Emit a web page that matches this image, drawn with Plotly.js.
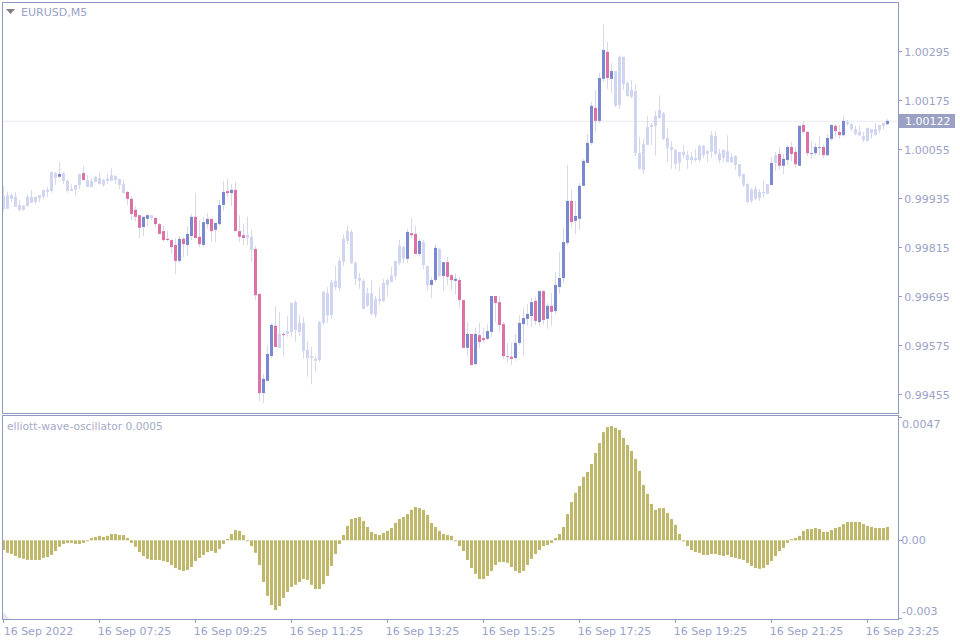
<!DOCTYPE html>
<html><head><meta charset="utf-8">
<script src="https://cdn.plot.ly/plotly-3.0.1.min.js"></script>
<style>html,body{margin:0;padding:0;background:#fff}#c{width:960px;height:640px}</style></head>
<body><div id="c"></div>
<script>
// Prices and oscillator values in points (1 point = 0.00001)
const POINT = 0.00001;
const highPts = [
99966,99951,99948,99951,99931,99919,99946,99956,99939,99943,
99956,99963,100000,100000,100024,100000,99983,99970,99968,99995,
100014,99992,99985,99990,100000,99983,99995,100010,99992,99983,
99980,99953,99941,99916,99894,99890,99897,99894,99890,99875,
99868,99855,99836,99838,99843,99841,99868,99897,99948,99882,
99890,99899,99885,99875,99931,99978,99983,99970,99975,99894,
99872,99890,99858,99818,99703,99505,99576,99630,99672,99657,
99608,99647,99679,99686,99650,99645,99586,99571,99549,99635,
99708,99718,99735,99770,99789,99848,99868,99858,99782,99752,
99738,99716,99735,99696,99718,99738,99738,99767,99782,99833,
99819,99860,99887,99868,99836,99833,99770,99743,99823,99814,
99779,99792,99750,99752,99743,99686,99632,99603,99618,99630,
99618,99627,99696,99696,99696,99632,99581,99581,99603,99649,
99667,99676,99691,99694,99708,99711,99679,99703,99755,99804,
99863,100017,99956,99929,99973,100032,100093,100171,100201,100242,
100362,100318,100267,100247,100286,100282,100223,100225,100215,100086,
100081,100137,100120,100149,100188,100147,100108,100076,100056,100049,
100066,100051,100049,100056,100066,100066,100054,100100,100100,100056,
100054,100090,100046,100041,100019,99995,99973,99961,99966,99958,
99980,99970,100037,100049,100061,100044,100066,100073,100061,100113,
100125,100100,100076,100071,100088,100068,100093,100117,100117,100115,
100139,100127,100120,100113,100113,100098,100108,100105,100120,100115,
100120,100130];
const bodyTopPts = [
99941,99943,99943,99939,99919,99917,99939,99939,99939,99943,
99956,99956,100000,99997,99995,99997,99978,99958,99968,99995,
99997,99980,99978,99988,99985,99980,99983,99992,99990,99983,
99970,99951,99934,99907,99894,99890,99894,99894,99887,99872,
99855,99836,99833,99821,99836,99836,99848,99890,99890,99841,
99877,99885,99885,99875,99919,99951,99953,99956,99956,99855,
99845,99845,99841,99811,99701,99493,99554,99625,99623,99603,
99603,99610,99679,99681,99630,99630,99564,99549,99542,99632,
99706,99703,99730,99733,99782,99836,99855,99853,99777,99740,
99733,99703,99703,99689,99689,99728,99735,99747,99782,99819,
99816,99853,99850,99848,99831,99828,99770,99735,99814,99811,
99779,99779,99747,99738,99735,99686,99603,99603,99603,99600,
99593,99610,99696,99696,99681,99627,99549,99547,99581,99630,
99642,99652,99681,99684,99708,99708,99672,99672,99723,99740,
99828,99929,99929,99892,99966,100027,100071,100162,100157,100230,
100299,100294,100247,100247,100282,100282,100218,100201,100198,100046,
100068,100110,100115,100137,100152,100144,100083,100061,100054,100049,
100049,100041,100037,100034,100064,100064,100051,100090,100088,100046,
100054,100051,100037,100039,100019,99995,99970,99956,99958,99951,
99951,99970,100022,100041,100044,100032,100061,100061,100049,100113,
100115,100098,100046,100061,100061,100061,100083,100115,100113,100098,
100125,100122,100117,100105,100098,100088,100108,100105,100105,100115,
100120,100125];
const bodyBottomPts = [
99909,99909,99934,99914,99907,99907,99916,99924,99926,99936,
99939,99951,99953,99985,99988,99978,99953,99953,99956,99968,
99980,99963,99963,99975,99970,99968,99978,99978,99980,99968,
99948,99934,99897,99890,99863,99865,99885,99887,99872,99848,
99833,99833,99816,99782,99782,99823,99821,99843,99838,99823,
99821,99872,99855,99858,99872,99919,99948,99948,99855,99841,
99838,99838,99809,99698,99458,99458,99488,99549,99571,99569,
99600,99603,99608,99613,99608,99561,99544,99544,99537,99539,
99630,99649,99649,99718,99716,99779,99831,99777,99738,99733,
99664,99672,99652,99649,99684,99684,99723,99730,99745,99777,
99787,99787,99845,99799,99799,99772,99723,99723,99735,99745,
99745,99743,99735,99733,99686,99569,99569,99527,99529,99583,
99588,99591,99608,99679,99625,99549,99547,99542,99544,99581,
99627,99640,99647,99635,99632,99637,99640,99657,99659,99718,
99740,99826,99877,99880,99885,99966,100022,100071,100125,100125,
100228,100230,100228,100162,100164,100215,100186,100184,100046,100007,
100005,100066,100110,100113,100132,100081,100059,100054,100019,100022,
100041,100029,100029,100029,100029,100041,100044,100049,100044,100029,
100034,100024,100024,100017,99990,99968,99926,99929,99934,99936,
99948,99946,99968,100022,100015,100015,100029,100044,100019,100015,
100098,100046,100044,100046,100059,100041,100041,100081,100100,100090,
100090,100117,100105,100093,100090,100078,100076,100095,100090,100103,
100113,100117];
const lowPts = [
99903,99909,99925,99914,99904,99905,99916,99924,99921,99926,
99934,99939,99948,99968,99985,99970,99948,99953,99941,99958,
99980,99963,99963,99975,99970,99963,99970,99978,99970,99958,
99946,99919,99882,99880,99838,99843,99865,99882,99863,99848,
99828,99831,99799,99750,99777,99792,99794,99833,99836,99816,
99816,99860,99828,99828,99868,99904,99939,99916,99855,99828,
99821,99821,99779,99686,99439,99434,99488,99544,99571,99569,
99547,99596,99596,99583,99598,99542,99498,99480,99510,99534,
99625,99630,99640,99711,99708,99770,99823,99774,99723,99713,
99664,99669,99649,99642,99674,99681,99694,99730,99735,99772,
99777,99777,99838,99799,99792,99762,99708,99691,99730,99743,
99708,99723,99711,99699,99667,99569,99547,99525,99527,99569,
99583,99588,99596,99632,99608,99542,99534,99527,99537,99576,
99549,99623,99620,99625,99623,99627,99615,99623,99652,99701,
99728,99821,99863,99848,99858,99966,100022,100066,100098,100120,
100220,100203,100193,100159,100154,100201,100184,100179,100039,100005,
99995,100066,100066,100041,100130,100078,100024,100007,100007,100002,
100034,100007,100019,100024,100024,100034,100024,100034,100041,100022,
100024,100024,100022,100005,99985,99963,99924,99924,99931,99929,
99936,99946,99968,100002,100005,99995,100017,100027,100010,100015,
100093,100039,100032,100041,100041,100034,100039,100076,100086,100081,
100086,100113,100100,100090,100088,100073,100073,100081,100090,100095,
100103,100115];
const oscillatorPts = [
-37,-48,-52,-60,-67,-71,-75,-75,-75,-75,
-67,-64,-56,-41,-25,-14,-10,-10,-14,-14,
-10,-4,9,13,17,13,17,24,24,20,
20,9,-10,-25,-45,-60,-71,-75,-75,-75,
-79,-83,-94,-106,-113,-117,-113,-102,-79,-67,
-56,-45,-41,-48,-33,-14,5,24,39,36,
20,-4,-22,-48,-94,-159,-212,-247,-266,-251,
-220,-197,-178,-170,-159,-148,-151,-170,-186,-186,
-167,-136,-98,-52,-14,20,55,81,85,89,
74,51,32,24,20,28,36,47,66,81,
89,100,116,127,123,116,97,66,51,36,
24,20,17,-4,-22,-41,-75,-106,-128,-148,
-148,-136,-117,-94,-83,-83,-86,-102,-117,-125,
-117,-94,-71,-52,-37,-22,-18,-10,9,24,
51,100,146,181,207,242,261,291,333,371,
413,432,436,429,421,391,364,341,310,265,
211,177,139,116,123,123,104,81,59,24,
-4,-22,-37,-45,-48,-56,-56,-52,-52,-56,
-60,-56,-64,-67,-71,-75,-86,-98,-106,-109,
-106,-94,-79,-60,-41,-29,-10,5,9,17,
36,43,43,47,43,32,32,39,47,51,
62,70,70,70,70,62,55,51,47,47,
47,51];
// Candle state runs: N neutral, U up, D down
const stateRuns = [["N",14],["U",1],["N",5],["D",1],["N",10],["D",4],["U",2],["N",1],["D",6],["U",1],["D",1],["U",2],["D",2],["U",2],["D",1],["U",3],["D",1],["U",1],["D",3],["N",2],["D",2],["U",3],["D",1],["N",1],["D",1],["N",30],["U",1],["D",2],["U",1],["N",2],["U",2],["N",1],["U",1],["D",2],["U",1],["D",2],["U",1],["D",1],["U",1],["D",2],["U",2],["D",5],["U",5],["D",1],["U",1],["D",1],["U",1],["D",1],["U",4],["D",1],["U",5],["D",1],["U",2],["D",1],["U",1],["N",39],["U",1],["N",1],["D",1],["U",2],["D",2],["U",1],["D",2],["U",3],["D",1],["U",2],["D",2],["U",1],["N",10],["U",1]];
const priceTicks = [1.00295,1.00175,1.00055,0.99935,0.99815,0.99695,0.99575,0.99455];
const priceTickLabels = ["1.00295","1.00175","1.00055","0.99935","0.99815","0.99695","0.99575","0.99455"];
const timeLabels = ["16 Sep 2022","16 Sep 07:25","16 Sep 09:25","16 Sep 11:25","16 Sep 13:25","16 Sep 15:25","16 Sep 17:25","16 Sep 19:25","16 Sep 21:25","16 Sep 23:25"];
const timeTickIndex = [0,24,48,72,96,120,144,168,192,216];
const lastPriceLine = 1.00124;

const C = {up:"#7a88d0",down:"#dc71a5",neutral:"#d0d6f2",wick:"#cdd0e6",osc:"#bfb76a",frame:"#8f99c4",text:"#9aa2c8",last:"#e8e8f4",tag:"#9aa1c4"};
const FONT = "'DejaVu Sans', sans-serif";

const states = stateRuns.flatMap(([s,n]) => Array(n).fill(s));
const idx = highPts.map((_,i)=>i);
const toP = a => a.map(v=>v*POINT);
const colors = states.map(s => s==="U"?C.up:s==="D"?C.down:C.neutral);

const W=960,H=640,L=3,R=62,T=3,B=21;
const pw=W-L-R, ph=H-T-B;
const px = x => (x-L)/pw;
const py = y => (H-B-y)/ph;

const wicks = {type:"bar",xaxis:"x2",yaxis:"y",x:idx,base:toP(lowPts),y:highPts.map((h,i)=>(h-lowPts[i])*POINT),width:0.2,marker:{color:C.wick,line:{width:0}},hoverinfo:"skip",showlegend:false};
const bodies = {type:"bar",xaxis:"x2",yaxis:"y",x:idx,base:toP(bodyBottomPts),y:bodyTopPts.map((t,i)=>(t-bodyBottomPts[i])*POINT),width:0.75,marker:{color:colors,line:{width:0}},hoverinfo:"skip",showlegend:false};
const osc = {type:"bar",xaxis:"x",yaxis:"y2",x:idx,y:toP(oscillatorPts),width:0.75,marker:{color:C.osc,line:{width:0}},hoverinfo:"skip",showlegend:false};

const xr=[-0.125,223.625];
const tickFont={family:FONT,size:11,color:C.text};
const yCommon={side:"right",showgrid:false,zeroline:false,showline:true,mirror:true,linecolor:C.frame,linewidth:1,ticks:"outside",ticklen:3,tickwidth:1,tickcolor:C.frame,tickfont:tickFont,tickmode:"array"};
const layout={
  width:W,height:H,margin:{l:L,r:R,t:T,b:B,pad:0},paper_bgcolor:"#fff",plot_bgcolor:"#fff",
  barmode:"overlay",showlegend:false,font:{family:FONT,size:11,color:C.text},
  xaxis:{domain:[0,1],anchor:"y2",range:xr,showgrid:false,zeroline:false,showline:true,mirror:true,linecolor:C.frame,linewidth:1,ticks:"outside",ticklen:3,tickwidth:1,tickcolor:C.frame,tickmode:"array",tickvals:timeTickIndex,ticktext:timeLabels,tickfont:tickFont,ticklabelshift:35,ticklabelstandoff:-1,ticklabeloverflow:"allow",tickangle:0},
  xaxis2:{domain:[0,1],anchor:"y",range:xr,showgrid:false,zeroline:false,showline:true,mirror:true,linecolor:C.frame,linewidth:1,showticklabels:false,ticks:""},
  yaxis:Object.assign({},yCommon,{domain:[py(413),1],range:[0.994093,1.004138],tickvals:priceTicks,ticktext:priceTickLabels,ticklabelshift:1}),
  yaxis2:Object.assign({},yCommon,{domain:[0,py(416)],range:[-0.003004,0.004744],tickvals:[0.0047,0,-0.003],ticktext:["","0.00",""],ticklabelstandoff:-3}),
  shapes:[
    {type:"line",xref:"x2",yref:"y",x0:xr[0],x1:xr[1],y0:lastPriceLine,y1:lastPriceLine,line:{color:C.last,width:1},layer:"below"},
    {type:"path",xref:"paper",yref:"paper",path:`M${px(6)},${py(9)} L${px(15)},${py(9)} L${px(10.5)},${py(14)} Z`,fillcolor:"#808080",line:{width:0}},
    {type:"path",xref:"paper",yref:"paper",path:`M${px(3)},${py(612)} L${px(3)},${py(619)} L${px(10)},${py(619)} Z`,fillcolor:"#e4e6f5",line:{width:0}},
    {type:"rect",xref:"paper",yref:"paper",x0:px(899),x1:px(955),y0:py(114),y1:py(128),fillcolor:C.tag,line:{width:0}}
  ],
  annotations:[
    {xref:"paper",yref:"paper",x:px(19),y:py(12),xanchor:"left",yanchor:"middle",text:"EURUSD,M5",showarrow:false,font:{family:FONT,size:11,color:C.text}},
    {xref:"paper",yref:"paper",x:px(5),y:py(426),xanchor:"left",yanchor:"middle",text:"elliott-wave-oscillator 0.0005",showarrow:false,font:{family:FONT,size:10.7,color:"#a6abc8"}},
    {xref:"paper",yref:"paper",x:px(903),y:py(121),xanchor:"left",yanchor:"middle",text:"1.00122",showarrow:false,font:{family:FONT,size:11,color:"#fff"}},
    {xref:"paper",yref:"paper",x:px(900),y:py(424),xanchor:"left",yanchor:"middle",text:"0.0047",showarrow:false,font:tickFont},
    {xref:"paper",yref:"paper",x:px(900),y:py(611),xanchor:"left",yanchor:"middle",text:"-0.003",showarrow:false,font:tickFont}
  ]
};
Plotly.newPlot("c",[wicks,bodies,osc],layout,{staticPlot:true,displayModeBar:false});
</script></body></html>
